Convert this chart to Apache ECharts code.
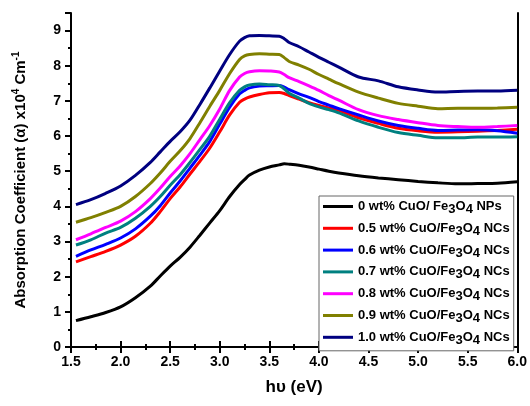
<!DOCTYPE html>
<html><head><meta charset="utf-8">
<script src="https://cdn.jsdelivr.net/npm/echarts@6/dist/echarts.min.js"></script>
<style>html,body{margin:0;padding:0;background:#fff}#c{width:530px;height:406px}</style>
</head><body><div id="c"></div>
<script>
var energy = [1.55,1.7,1.85,2.0,2.15,2.3,2.4,2.5,2.6,2.7,2.8,2.9,3.0,3.1,3.2,3.25,3.3,3.4,3.5,3.6,3.65,3.7,3.8,3.9,4.0,4.1,4.2,4.4,4.6,4.8,5.0,5.2,5.4,5.6,5.8,6.0];
var s0  = [0.75,0.86,0.98,1.14,1.40,1.73,2.02,2.30,2.55,2.84,3.18,3.53,3.88,4.28,4.62,4.76,4.89,5.03,5.12,5.18,5.21,5.20,5.17,5.12,5.06,5.00,4.95,4.87,4.81,4.76,4.71,4.67,4.64,4.65,4.66,4.70];
var s05 = [2.42,2.57,2.72,2.90,3.15,3.52,3.85,4.22,4.55,4.92,5.28,5.66,6.12,6.60,6.96,7.05,7.11,7.18,7.23,7.24,7.21,7.15,7.05,6.95,6.87,6.80,6.73,6.52,6.36,6.22,6.15,6.11,6.12,6.14,6.16,6.19];
var s06 = [2.58,2.76,2.92,3.10,3.36,3.72,4.02,4.38,4.72,5.09,5.46,5.85,6.34,6.82,7.20,7.30,7.37,7.42,7.43,7.44,7.39,7.32,7.20,7.10,6.98,6.88,6.78,6.60,6.43,6.30,6.22,6.16,6.17,6.18,6.15,6.08];
var s07 = [2.90,3.05,3.24,3.40,3.66,4.00,4.28,4.60,4.90,5.25,5.62,6.00,6.48,6.95,7.30,7.40,7.45,7.48,7.46,7.44,7.34,7.22,7.08,6.93,6.83,6.75,6.66,6.43,6.25,6.10,6.02,5.95,5.95,5.97,5.97,5.98];
var s08 = [3.05,3.22,3.40,3.58,3.85,4.22,4.52,4.85,5.15,5.50,5.90,6.30,6.77,7.30,7.68,7.78,7.83,7.86,7.85,7.82,7.75,7.66,7.55,7.43,7.30,7.15,7.02,6.75,6.58,6.47,6.38,6.30,6.27,6.25,6.27,6.30];
var s09 = [3.55,3.68,3.83,4.00,4.28,4.65,4.95,5.28,5.58,5.93,6.38,6.85,7.30,7.78,8.18,8.28,8.32,8.34,8.33,8.32,8.23,8.12,8.02,7.90,7.75,7.62,7.49,7.25,7.08,6.93,6.85,6.78,6.79,6.79,6.80,6.82];
var s10 = [4.05,4.19,4.37,4.58,4.88,5.25,5.55,5.85,6.12,6.45,6.90,7.37,7.85,8.32,8.70,8.80,8.85,8.86,8.85,8.84,8.77,8.66,8.54,8.39,8.24,8.10,7.96,7.68,7.57,7.40,7.31,7.25,7.27,7.28,7.28,7.30];
var seriesNames = ['0 wt% CuO/ Fe{sub|3}O{sub|4} NPs','0.5 wt% CuO/Fe{sub|3}O{sub|4} NCs','0.6 wt% CuO/Fe{sub|3}O{sub|4} NCs','0.7 wt% CuO/Fe{sub|3}O{sub|4} NCs','0.8 wt% CuO/Fe{sub|3}O{sub|4} NCs','0.9 wt% CuO/Fe{sub|3}O{sub|4} NCs','1.0 wt% CuO/Fe{sub|3}O{sub|4} NCs'];
var seriesColors = ['#000000','#ff0000','#0000ff','#008080','#ff00ff','#808000','#000080'];
var seriesData = [s0,s05,s06,s07,s08,s09,s10];
var xTicks = {min:1.5,max:6.0,interval:0.5};
var yTicks = {min:0,max:9.5,interval:1};

var chart = echarts.init(document.getElementById('c'));
var font = 'Liberation Sans, Arial, sans-serif';
var series = seriesData.map(function(d,i){
  return {name:'s'+i,type:'line',showSymbol:false,symbol:'none',smooth:0.3,
    data:d.map(function(v,j){return [energy[j],v];}),
    lineStyle:{color:seriesColors[i],width:3},itemStyle:{color:seriesColors[i]},z:2+i};
});
var nameMap = {};
seriesNames.forEach(function(n,i){nameMap['s'+i]=n;});
chart.setOption({
  animation:false,
  grid:{left:71,right:11,top:13,bottom:59},
  legend:{orient:'vertical',left:319,top:196,padding:[4,4,4,4],itemGap:5.8,itemWidth:30,itemHeight:3,icon:'rect',
    borderColor:'#666',borderWidth:1,backgroundColor:'#fff',
    data:series.map(function(s){return s.name;}),
    formatter:function(n){return nameMap[n];},
    textStyle:{fontFamily:font,fontWeight:'bold',fontSize:13,color:'#000',
      rich:{sub:{fontFamily:font,fontWeight:'bold',fontSize:13,verticalAlign:'bottom',padding:[6,0,0,0],color:'#000'}}}},
  xAxis:[{type:'value',min:xTicks.min,max:xTicks.max,interval:xTicks.interval,
    name:'h\u03c5 (eV)',nameLocation:'middle',nameGap:32,
    nameTextStyle:{fontFamily:font,fontWeight:'bold',fontSize:17,color:'#000'},
    axisLine:{lineStyle:{color:'#000',width:2}},
    axisTick:{inside:false,length:6,lineStyle:{width:2,color:'#000'}},
    minorTick:{show:true,splitNumber:2,length:3,lineStyle:{width:2,color:'#000'}},
    splitLine:{show:false},
    axisLabel:{fontFamily:font,fontWeight:'bold',fontSize:14,color:'#000',margin:8,
      formatter:function(v){return v.toFixed(1);}}},
   {type:'value',position:'top',min:xTicks.min,max:xTicks.max,interval:xTicks.interval,
    axisLine:{lineStyle:{color:'#000',width:2}},
    axisTick:{inside:false,length:6,lineStyle:{width:2,color:'#000'}},
    minorTick:{show:true,splitNumber:2,length:3,lineStyle:{width:2,color:'#000'}},
    splitLine:{show:false},axisLabel:{show:false}}],
  yAxis:[{type:'value',min:yTicks.min,max:yTicks.max,interval:yTicks.interval,
    name:'Absorption Coefficient (\u03b1) x10{sup|4} Cm{sup|-1}',nameLocation:'middle',nameGap:41,
    nameTextStyle:{fontFamily:font,fontWeight:'bold',fontSize:15,color:'#000',
      rich:{sup:{fontFamily:font,fontWeight:'bold',fontSize:10,verticalAlign:'top',padding:[0,0,9,0],color:'#000'}}},
    axisLine:{lineStyle:{color:'#000',width:2}},
    axisTick:{inside:false,length:6,lineStyle:{width:2,color:'#000'}},
    minorTick:{show:true,splitNumber:2,length:3,lineStyle:{width:2,color:'#000'}},
    splitLine:{show:false},
    axisLabel:{fontFamily:font,fontWeight:'bold',fontSize:14,color:'#000',margin:10,showMaxLabel:false,
      formatter:function(v){return (v%1===0)?String(v):'';}}},
   {type:'value',position:'right',min:yTicks.min,max:yTicks.max,interval:yTicks.interval,
    axisLine:{show:true,lineStyle:{color:'#000',width:2}},axisTick:{show:false},
    splitLine:{show:false},axisLabel:{show:false}}],
  series:series
});
</script></body></html>
